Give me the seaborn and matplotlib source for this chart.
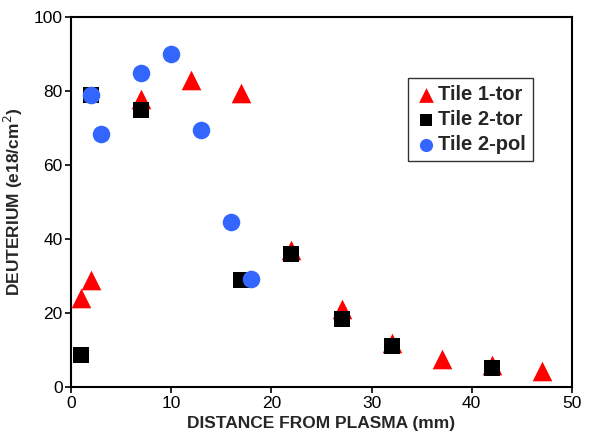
import pandas as pd
import matplotlib.pyplot as plt
import seaborn as sns

# data
tile1_tor_x = [1, 2, 7, 12, 17, 22, 27, 32, 37, 42, 47]
tile1_tor_y = [24, 29, 78, 83, 79.5, 37, 21, 12, 7.5, 6, 4.5]
tile2_tor_x = [1, 2, 7, 17, 22, 27, 32, 42]
tile2_tor_y = [8.7, 79, 75, 29, 36, 18.5, 11, 5.2]
tile2_pol_x = [2, 3, 7, 10, 13, 16, 18]
tile2_pol_y = [79, 68.5, 85, 90, 69.5, 44.7, 29.3]

series = ["Tile 1-tor", "Tile 2-tor", "Tile 2-pol"]

df = pd.concat([
    pd.DataFrame({"x": tile1_tor_x, "y": tile1_tor_y, "tile": series[0]}),
    pd.DataFrame({"x": tile2_tor_x, "y": tile2_tor_y, "tile": series[1]}),
    pd.DataFrame({"x": tile2_pol_x, "y": tile2_pol_y, "tile": series[2]}),
], ignore_index=True)

sns.set_theme(style="ticks")
plt.rcParams['font.family'] = ['Liberation Sans', 'DejaVu Sans']

fig = plt.figure(figsize=(5.97, 4.38), dpi=100)
ax = fig.add_axes([0.119, 0.116, 0.839, 0.845])

palette = {series[0]: "#FF0000", series[1]: "#000000", series[2]: "#3366FF"}
markers = {series[0]: "^", series[1]: "s", series[2]: "o"}
sizes = {series[0]: 200, series[1]: 125, series[2]: 160}

for name in series:
    sub = df[df["tile"] == name]
    sns.scatterplot(data=sub, x="x", y="y", color=palette[name], marker=markers[name],
                    s=sizes[name], linewidth=0, ax=ax, label=name, zorder=3)

ax.set_xlim(0, 50)
ax.set_ylim(0, 100)
ax.set_xticks(range(0, 51, 10))
ax.set_yticks(range(0, 101, 20))
ax.tick_params(direction="out", length=4, width=1.2, colors="black", labelsize=12.5, pad=2)
for sp in ax.spines.values():
    sp.set_linewidth(1.5)
    sp.set_color("black")

ax.set_xlabel("DISTANCE FROM PLASMA (mm)", fontsize=12.5, fontweight="bold", labelpad=4)
ax.set_ylabel("DEUTERIUM (e18/cm$^2$)", fontsize=12.5, fontweight="bold", labelpad=6)

leg = ax.legend(loc="upper left", bbox_to_anchor=(0.673, 0.835), borderaxespad=0,
                frameon=True, fancybox=False, edgecolor="black",
                prop={"weight": "bold", "size": 14.5},
                handletextpad=0.05, handlelength=1.1, borderpad=0.35, labelspacing=0.3,
                markerscale=0.75)
leg.get_frame().set_linewidth(1.0)

fig.savefig("out.png", dpi=100)
